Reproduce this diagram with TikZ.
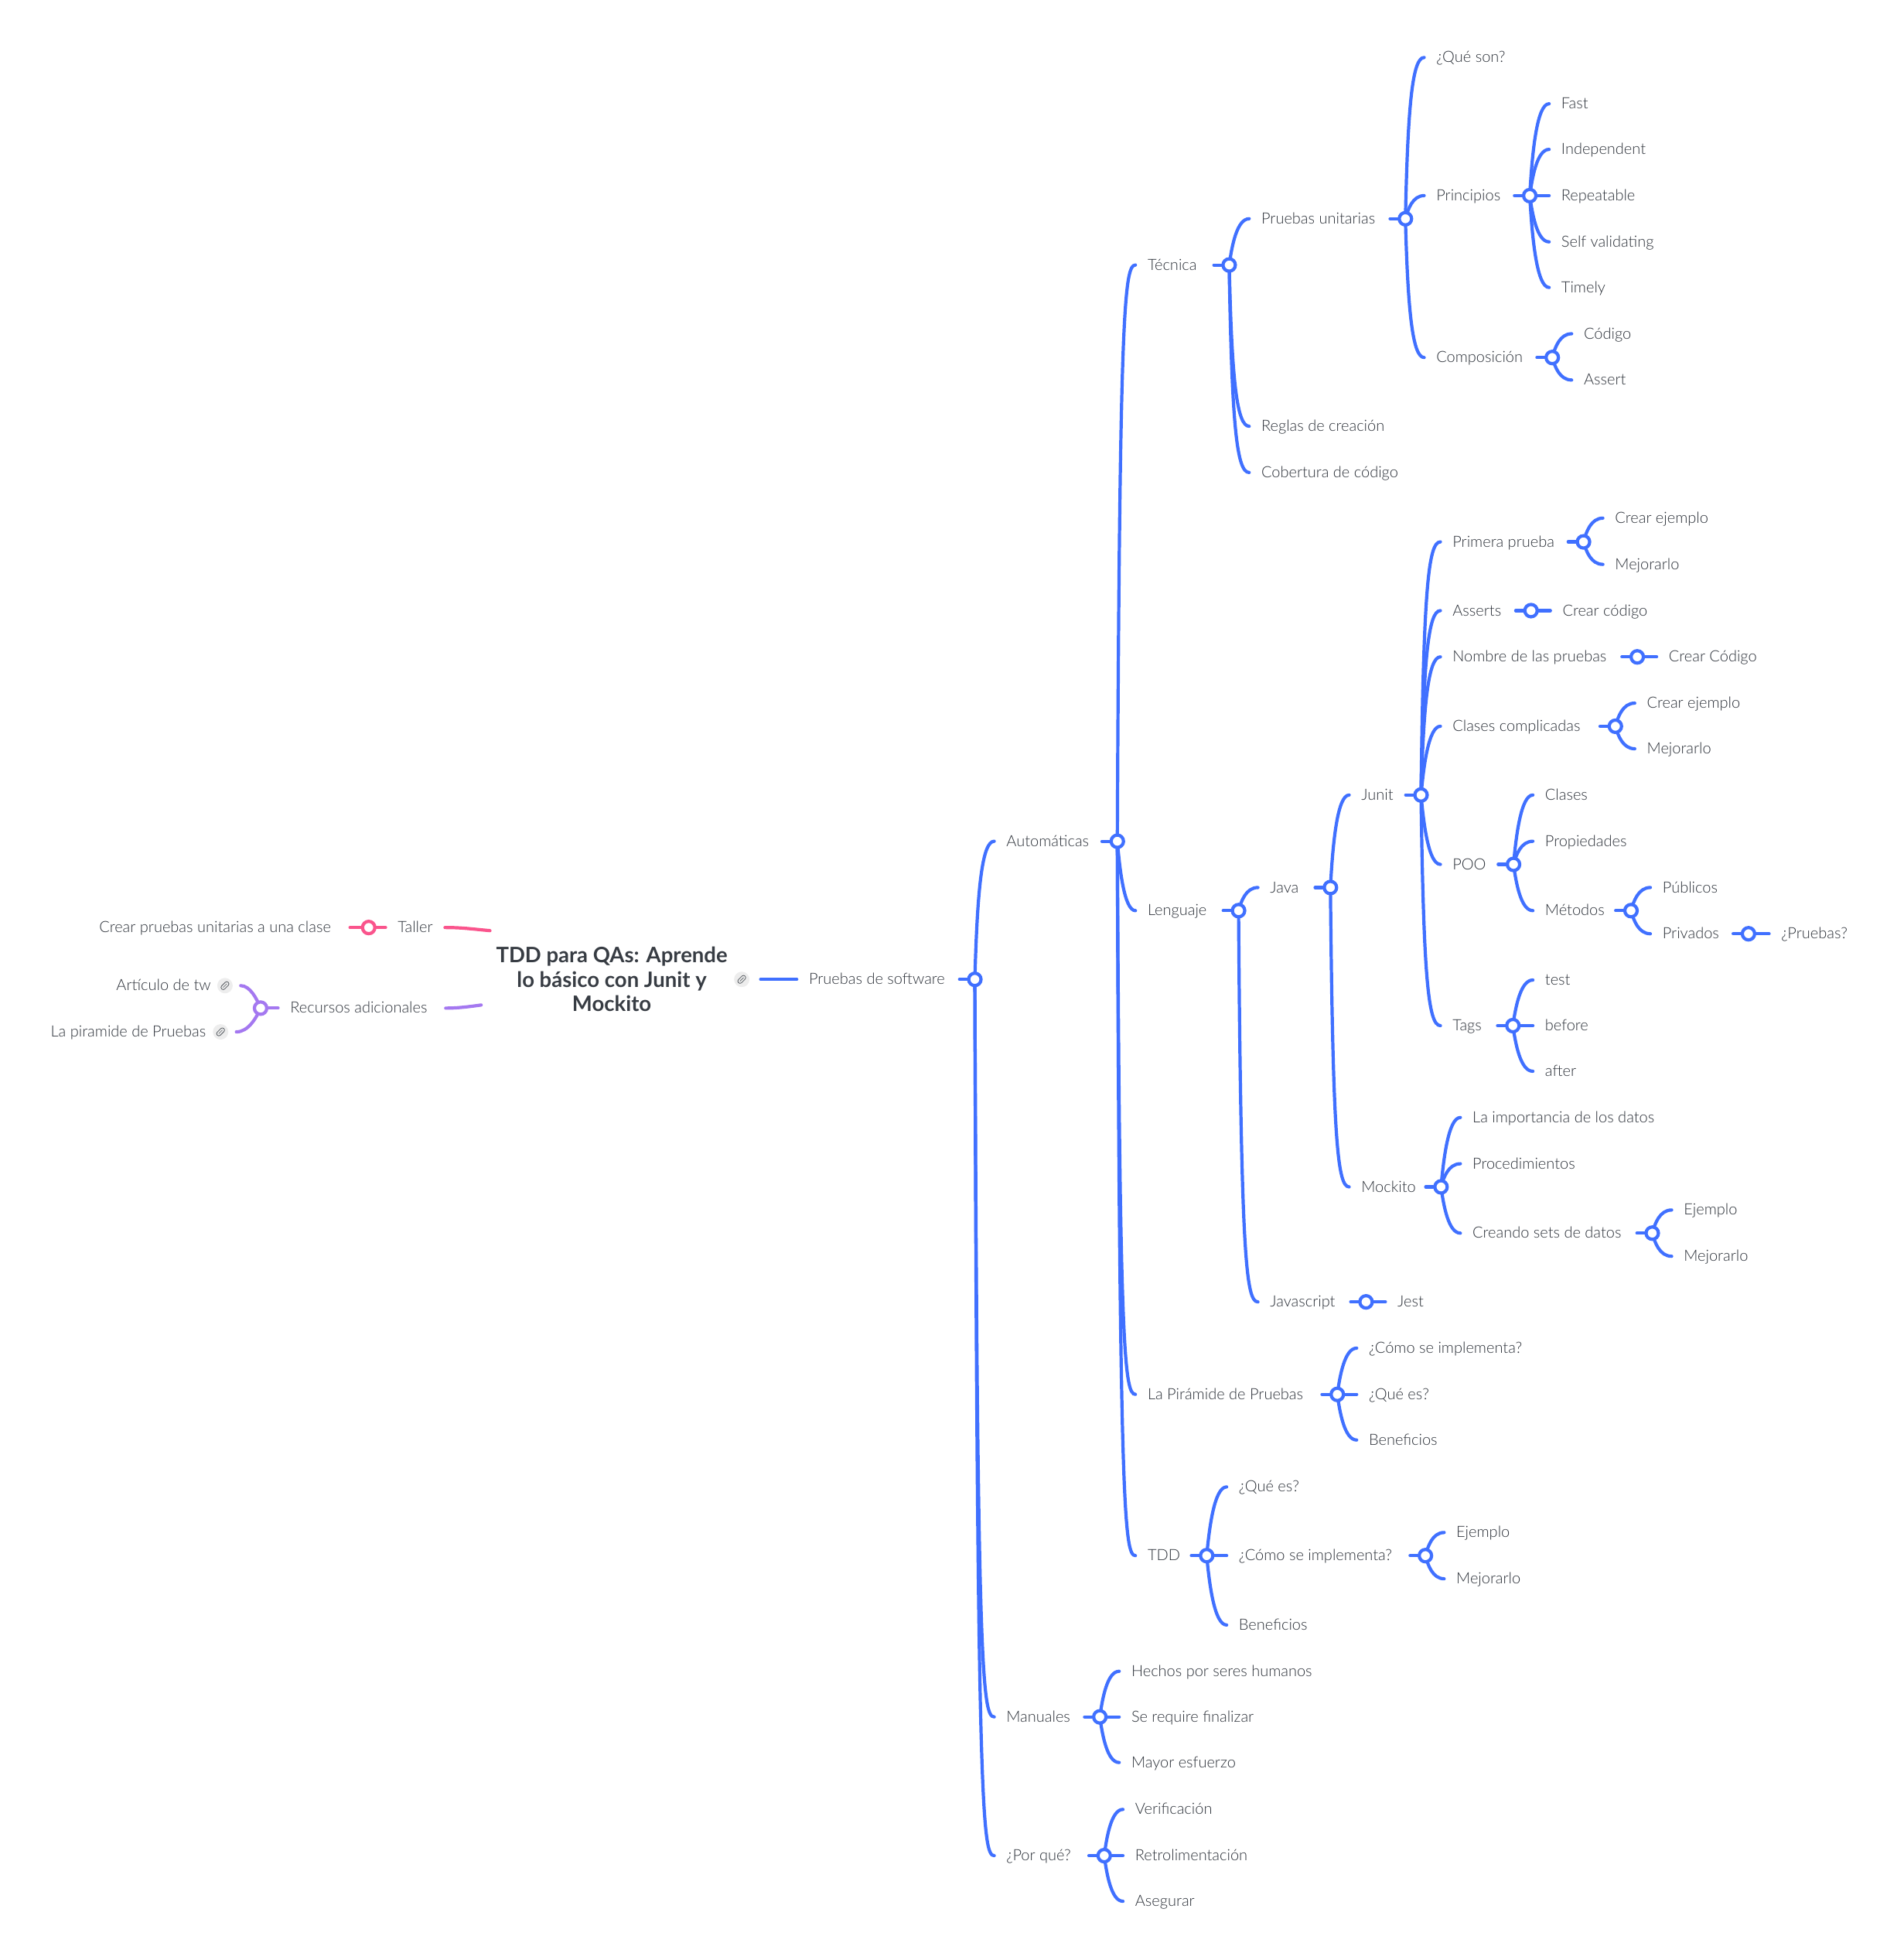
\documentclass[tikz,border=0pt]{standalone}
\usepackage{fontspec}
\setmainfont{Lato}[UprightFont=* Light,BoldFont=* Bold]
\usetikzlibrary{calc,backgrounds}
\definecolor{treeblue}{RGB}{64,112,255}
\definecolor{tallerpink}{RGB}{250,84,140}
\definecolor{recursopurple}{RGB}{164,120,240}
\definecolor{topicgray}{RGB}{45,50,58}
\definecolor{titlegray}{RGB}{55,60,67}
\definecolor{clipgray}{RGB}{85,90,96}
\begin{document}
\begin{tikzpicture}[x=0.808pt,y=-0.808pt]
        \tikzstyle{topic} = [anchor=west, inner xsep=7.7pt, inner ysep=0pt, text height=8.3pt, text depth=1.7pt, text=topicgray, font=\fontsize{10}{12}\selectfont]
        \tikzstyle{junction} = [circle, draw=treeblue, fill=white, line width=2.1pt, inner sep=0pt, minimum size=8pt]
        \tikzstyle{stub} = [draw=treeblue, line width=2.1pt, line cap=round]
        \tikzstyle{branch} = [draw=treeblue, line width=2.1pt, line cap=round, to path={let \p1=(\tikztostart), \p2=(\tikztotarget), \n1={\x1+0.13*(\x2-\x1)}, \n2={\y2-(\y2-\y1)*min(0.6,30/max(abs(\y2-\y1),1))}, \n3={\x1+0.38*(\x2-\x1)} in .. controls (\n1,\n2) and (\n3,\y2) .. (\tikztotarget)}]
        \tikzstyle{clipicon} = [circle, fill=black!7, inner sep=0pt, minimum size=10pt, path picture={
            \draw[clipgray, line width=0.4pt, rounded corners=1.3pt, shift={(path picture bounding box.center)}] (1.13pt,3.11pt) -- (3.11pt,1.13pt) -- (-1.13pt,-3.11pt) -- (-3.11pt,-1.13pt) -- cycle;
            \draw[clipgray, line width=0.3pt, shift={(path picture bounding box.center)}] (-1.2pt,-1.2pt) -- (1.2pt,1.2pt);}]
        \useasboundingbox (0,0) rectangle (1523,1568);
        % Draw the central title and its link icon
        \node[text=titlegray, align=center, inner sep=0pt, font=\fontsize{13.75}{15.8}\selectfont\bfseries] (titulo) at (489.5,783.5) {TDD para QAs: Aprende\\lo básico con Junit y\\Mockito};
        \node[clipicon] (tituloclip) at (593.5,783.5) {};
        % Draw the topics on the right, one line each
        \foreach \nm/\px/\py/\txt in {
            pruebas/647/783.5/Pruebas de software,
            automaticas/805/673/Automáticas, manuales/805/1373.5/Manuales, porque/805/1484.5/¿Por qué?,
            tecnica/918/212/Técnica, lenguaje/918/728.5/Lenguaje, piramide/918/1115.5/La Pirámide de Pruebas, tdd/918/1244.5/TDD,
            unitarias/1009/175/Pruebas unitarias, reglas/1009/341/Reglas de creación, cobertura/1009/378/Cobertura de código,
            quneson/1149/46/¿Qué son?, principios/1149/156.5/Principios, composicion/1149/286/Composición,
            fast/1249/83/Fast, independent/1249/119.5/Independent, repeatable/1249/156.5/Repeatable, selfval/1249/193.5/Self validating, timely/1249/230/Timely,
            codigo/1267/267/Código, assert/1267/304/Assert,
            java/1016/710/Java, javascript/1016/1041.5/Javascript,
            junit/1089/636/Junit, mockito/1089/949.5/Mockito,
            primera/1162/433.5/Primera prueba, asserts/1162/488.5/Asserts, nombre/1162/525.5/Nombre de las pruebas, complicadas/1162/581/Clases complicadas, poo/1162/691.5/POO, tags/1162/820.5/Tags,
            ejemploa/1292/414.5/Crear ejemplo, mejorarloa/1292/451.5/Mejorarlo,
            crearcod/1250/488.5/Crear código, crearcodb/1335/525.5/Crear Código,
            ejemplob/1317.5/562.5/Crear ejemplo, mejorarlob/1317.5/599/Mejorarlo,
            clases/1236/636/Clases, propiedades/1236/673/Propiedades, metodos/1236/728.5/Métodos,
            publicos/1330/710/Públicos, privados/1330/747/Privados, pruebasq/1425/747/¿Pruebas?,
            test/1236/784/test, before/1236/820.5/before, after/1236/857/after,
            importancia/1178/894/La importancia de los datos, procedimientos/1178/931/Procedimientos, creando/1178/986.5/Creando sets de datos,
            ejemploc/1347/968/Ejemplo, mejorarloc/1347/1005/Mejorarlo,
            jest/1118/1041.5/Jest,
            comoa/1095/1078.5/¿Cómo se implementa?, quea/1095/1115.5/¿Qué es?, beneficiosa/1095/1152/Beneficios,
            queb/991/1189.5/¿Qué es?, comob/991/1244.5/¿Cómo se implementa?, beneficiosb/991/1300/Beneficios,
            ejemplod/1165/1226/Ejemplo, mejorarlod/1165/1263/Mejorarlo,
            hechos/905/1337/Hechos por seres humanos, finalizar/905/1373.5/Se require finalizar, esfuerzo/905/1410/Mayor esfuerzo,
            verificacion/908/1447.5/Verificación, retro/908/1484.5/Retrolimentación, asegurar/908/1521/Asegurar} {
            \node[topic] (\nm) at (\px-9.5,\py) {\txt};
        }
        % Draw the topics on the left
        \node[topic] (taller) at (308.5,742) {Taller};
        \node[topic, anchor=east] (crearclase) at (274.5,742) {Crear pruebas unitarias a una clase};
        \node[topic] (recursos) at (222.5,806.5) {Recursos adicionales};
        \node[clipicon] (clipa) at (180,788.5) {};
        \node[clipicon] (clipb) at (176.5,825.5) {};
        \node[topic, anchor=east] (articulo) at (178.5,788.5) {Artículo de tw};
        \node[topic, anchor=east] (piramidelink) at (174.5,825.5) {La piramide de Pruebas};
        % Draw the junctions, one behind each parent topic
        \foreach \nm/\px/\py in {
            jpruebas/780/783.5, jautomaticas/894/673, jmanuales/880/1373.5, jporque/883.5/1484.5,
            jtecnica/983.5/212, jlenguaje/991/728.5, jpiramide/1070/1115.5, jtdd/965.5/1244.5,
            junitarias/1124.5/175, jprincipios/1224/156.5, jcomposicion/1242/286,
            jjava/1064.5/710, jjavascript/1093/1041.5, jjunit/1137/636, jmockito/1153/949.5,
            jprimera/1267/433.5, jasserts/1225/488.5, jnombre/1310/525.5, jcomplicadas/1292.5/581,
            jpoo/1211/691.5, jmetodos/1305/728.5, jprivados/1399/747, jtags/1210.5/820.5,
            jcreando/1322/986.5, jcomo/1140.5/1244.5} {
            \node[junction] (\nm) at (\px,\py) {};
        }
        \node[junction, draw=tallerpink] (jtaller) at (295,742) {};
        \node[junction, draw=recursopurple] (jrecursos) at (208.5,806.5) {};
        % Free ends of the two lines that stop short of the title
        \coordinate (tallerfin) at (392,744.5);
        \coordinate (recursosfin) at (385,804);
        \begin{scope}[on background layer]
            % Draw the stubs from each parent to its junction
            \foreach \a/\b in {
                pruebas/jpruebas, automaticas/jautomaticas, manuales/jmanuales, porque/jporque,
                tecnica/jtecnica, lenguaje/jlenguaje, piramide/jpiramide, tdd/jtdd,
                unitarias/junitarias, principios/jprincipios, composicion/jcomposicion,
                java/jjava, javascript/jjavascript, junit/jjunit, mockito/jmockito,
                primera/jprimera, asserts/jasserts, nombre/jnombre, complicadas/jcomplicadas,
                poo/jpoo, metodos/jmetodos, privados/jprivados, tags/jtags,
                creando/jcreando, comob/jcomo} {
                \draw[stub] let \p1=(\a.east), \p2=(\b.center) in (\x2-9.9pt,\y1) -- (\b);
            }
            % Draw the branches from each junction to its children
            \foreach \a/\b in {
                jpruebas/automaticas, jpruebas/manuales, jpruebas/porque,
                jautomaticas/tecnica, jautomaticas/lenguaje, jautomaticas/piramide, jautomaticas/tdd,
                jtecnica/unitarias, jtecnica/reglas, jtecnica/cobertura,
                junitarias/quneson, junitarias/principios, junitarias/composicion,
                jprincipios/fast, jprincipios/independent, jprincipios/repeatable, jprincipios/selfval, jprincipios/timely,
                jcomposicion/codigo, jcomposicion/assert,
                jlenguaje/java, jlenguaje/javascript,
                jjava/junit, jjava/mockito,
                jjunit/primera, jjunit/asserts, jjunit/nombre, jjunit/complicadas, jjunit/poo, jjunit/tags,
                jprimera/ejemploa, jprimera/mejorarloa,
                jasserts/crearcod, jnombre/crearcodb,
                jcomplicadas/ejemplob, jcomplicadas/mejorarlob,
                jpoo/clases, jpoo/propiedades, jpoo/metodos,
                jmetodos/publicos, jmetodos/privados, jprivados/pruebasq,
                jtags/test, jtags/before, jtags/after,
                jmockito/importancia, jmockito/procedimientos, jmockito/creando,
                jcreando/ejemploc, jcreando/mejorarloc,
                jjavascript/jest,
                jpiramide/comoa, jpiramide/quea, jpiramide/beneficiosa,
                jtdd/queb, jtdd/comob, jtdd/beneficiosb,
                jcomo/ejemplod, jcomo/mejorarlod,
                jmanuales/hechos, jmanuales/finalizar, jmanuales/esfuerzo,
                jporque/verificacion, jporque/retro, jporque/asegurar} {
                \draw[branch] (\a.center) to (\b.west);
            }
            % Draw the line from the title to the tree
            \draw[stub, shorten <=7pt] (tituloclip) -- (pruebas);
            % Draw the pink and purple sides
            \draw[stub, draw=tallerpink] (taller) -- (jtaller);
            \draw[stub, draw=tallerpink, shorten <=4.5pt] (crearclase) -- (jtaller);
            \draw[stub, draw=recursopurple] (recursos) -- (jrecursos);
            \draw[draw=tallerpink, line width=2.1pt, line cap=round] (taller.east) to[out=0, in=175] (tallerfin);
            \draw[draw=recursopurple, line width=2.1pt, line cap=round, shorten <=4pt] (recursos.east) to[out=0, in=188] (recursosfin);
            \draw[branch, draw=recursopurple, shorten >=5pt] (jrecursos.center) to (clipa.east);
            \draw[branch, draw=recursopurple, shorten >=5pt] (jrecursos.center) to (clipb.east);
        \end{scope}
    \end{tikzpicture}
\end{document}
